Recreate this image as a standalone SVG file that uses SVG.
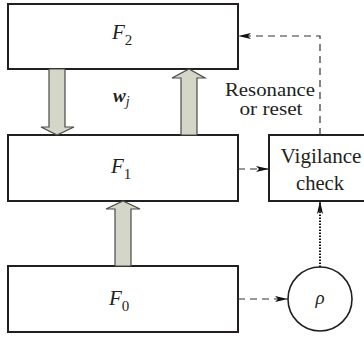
<svg xmlns="http://www.w3.org/2000/svg" width="364" height="337" viewBox="0 0 364 337">
<style>
.box{fill:#fff;stroke:#231f20;stroke-width:2}
.blk{fill:#d4d7c7;stroke:#4a4a48;stroke-width:1.2;stroke-linejoin:miter}
.dash{fill:none;stroke:#333;stroke-width:1.2;stroke-dasharray:7 5}
.dot{fill:none;stroke:#111;stroke-width:2;stroke-dasharray:1.5 1.5}
.t{font-family:"Liberation Serif","Times New Roman",serif;fill:#231f20}
.it{font-style:italic}
</style>
<defs>
<marker id="ah" viewBox="0 0 13 8" refX="13" refY="4" markerWidth="13" markerHeight="8" markerUnits="userSpaceOnUse" orient="auto">
<path d="M0,1 L13,4 L0,7 L3,4 Z" fill="#111"/>
</marker>
</defs>
<g id="F2">
<rect class="box" x="8" y="4" width="230" height="65"/>
<text class="t it" x="112" y="39" font-size="21">F<tspan font-style="normal" font-size="15" dy="6">2</tspan></text>
</g>
<g id="F1">
<rect class="box" x="8" y="135" width="230" height="66"/>
<text class="t it" x="111" y="173" font-size="21">F<tspan font-style="normal" font-size="15" dy="6">1</tspan></text>
</g>
<g id="F0">
<rect class="box" x="8" y="266" width="230" height="66"/>
<text class="t it" x="109" y="305" font-size="21">F<tspan font-style="normal" font-size="15" dy="6">0</tspan></text>
</g>
<g id="vigilance">
<rect class="box" x="269" y="135" width="104" height="66"/>
<text class="t" x="321" y="163" font-size="20" text-anchor="middle" textLength="81" lengthAdjust="spacingAndGlyphs">Vigilance</text>
<text class="t" x="320" y="190" font-size="20" text-anchor="middle" textLength="48" lengthAdjust="spacingAndGlyphs">check</text>
</g>
<g id="rho">
<circle cx="320" cy="299" r="32" fill="#fff" stroke="#231f20" stroke-width="1.6"/>
<text class="t it" x="320" y="304" font-size="19" text-anchor="middle">ρ</text>
</g>
<g id="weights">
<polygon class="blk" points="49,69 65,69 65,127 74,127 57,135 41,127 49,127"/>
<polygon class="blk" points="181,135 197,135 197,78 205,78 189,69 172,78 181,78"/>
<text class="t it" x="113" y="102" font-size="19" font-weight="bold">w<tspan font-size="14" font-weight="normal" dy="4">j</tspan></text>
</g>
<g id="input">
<polygon class="blk" points="115,266 131,266 131,209 140,209 123,201 106,209 115,209"/>
</g>
<g id="connectors">
<polyline class="dash" points="320,135 320,36 238,36" marker-end="url(#ah)"/>
<line class="dash" x1="238" y1="169" x2="269" y2="169" marker-end="url(#ah)"/>
<line class="dash" x1="238" y1="299" x2="288" y2="299" marker-end="url(#ah)"/>
<line class="dot" x1="320" y1="267" x2="320" y2="201" marker-end="url(#ah)"/>
</g>
<g id="label">
<text class="t" x="270" y="96" font-size="19" text-anchor="middle" textLength="90" lengthAdjust="spacingAndGlyphs">Resonance</text>
<text class="t" x="271" y="115" font-size="19" text-anchor="middle" textLength="63" lengthAdjust="spacingAndGlyphs">or reset</text>
</g>
</svg>
